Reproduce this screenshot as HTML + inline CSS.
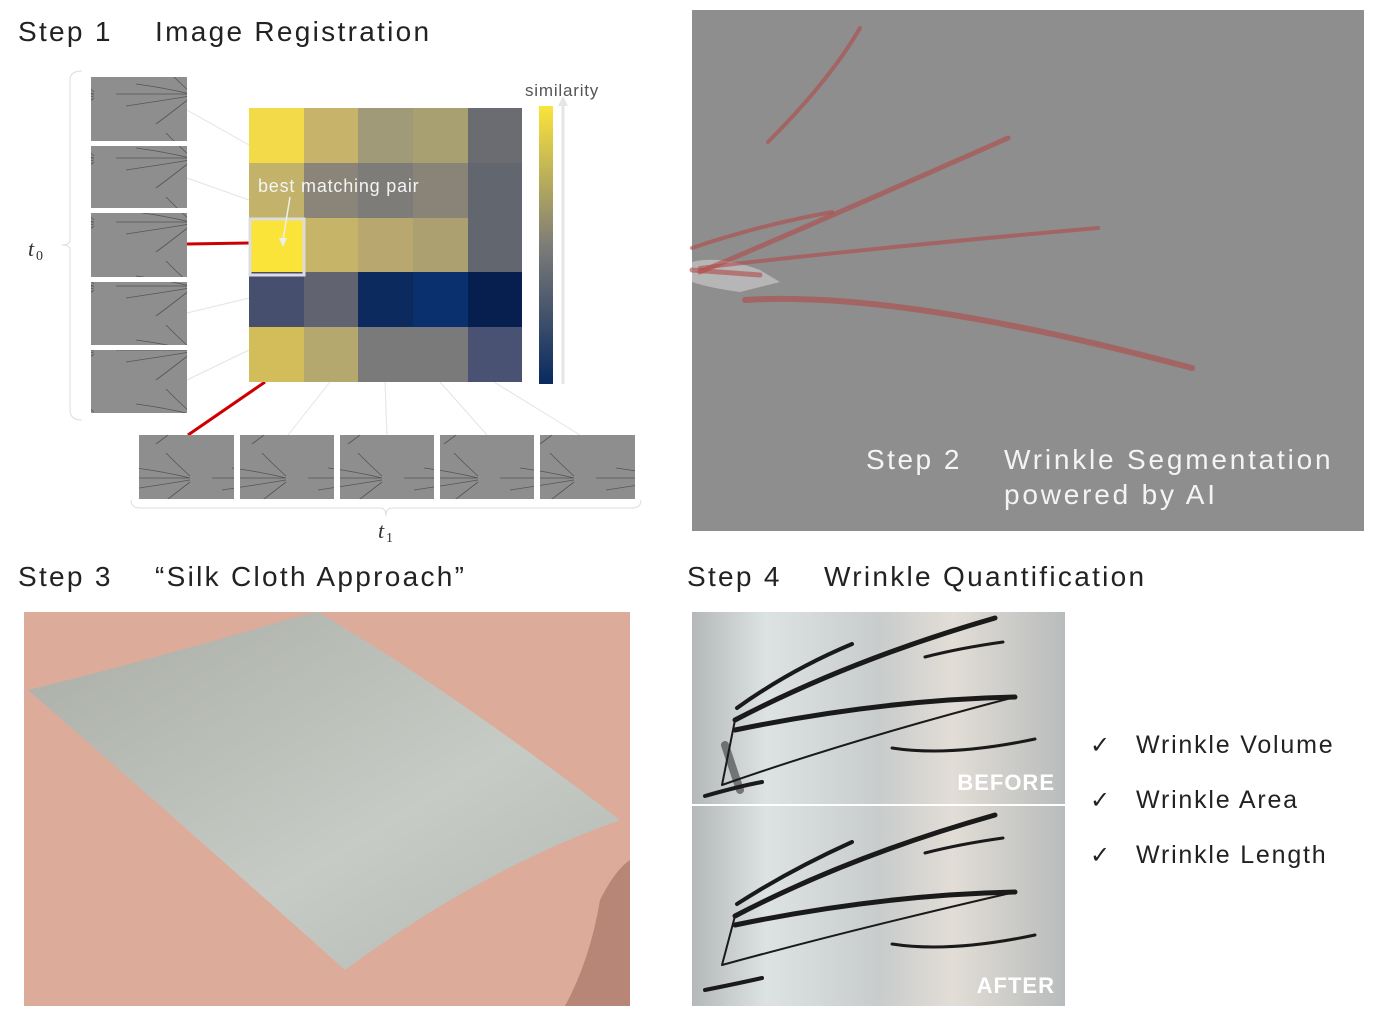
<!DOCTYPE html>
<html><head><meta charset="utf-8"><style>
body{margin:0;width:1375px;height:1019px;background:#fff;position:relative;overflow:hidden;font-family:"Liberation Sans",sans-serif;color:#222}
.t{position:absolute;font-size:28px;white-space:nowrap;letter-spacing:2.3px}
</style></head><body>
<div class="t" style="left:18px;top:16px">Step 1</div>
<div class="t" style="left:155px;top:16px">Image Registration</div>
<div class="t" style="left:18px;top:561px">Step 3</div>
<div class="t" style="left:155px;top:561px">“Silk Cloth Approach”</div>
<div class="t" style="left:687px;top:561px">Step 4</div>
<div class="t" style="left:824px;top:561px">Wrinkle Quantification</div>

<svg width="1375" height="1019" style="position:absolute;left:0;top:0" xmlns="http://www.w3.org/2000/svg">
<defs>
<linearGradient id="cb" x1="0" y1="0" x2="0" y2="1"><stop offset="0" stop-color="#fbe43a"/><stop offset="0.5" stop-color="#7e7c78"/><stop offset="1" stop-color="#082a60"/></linearGradient>
<pattern id="th" width="96" height="64" patternUnits="userSpaceOnUse">
<rect width="96" height="64" fill="#8e8e8e"/>
<path d="M20 30 L94 30 M40 20 Q70 24 94 30 M30 42 Q70 36 94 32 M60 60 Q80 45 94 34 M70 5 Q85 20 94 28" stroke="#555" stroke-width="0.8" fill="none"/>
</pattern>
<linearGradient id="s4" x1="0" y1="0" x2="1" y2="0"><stop offset="0" stop-color="#b4b8b8"/><stop offset="0.2" stop-color="#dde2e2"/><stop offset="0.5" stop-color="#c8cccc"/><stop offset="0.7" stop-color="#e2ddd6"/><stop offset="1" stop-color="#b8bcbc"/></linearGradient>
<linearGradient id="cl" x1="0" y1="0" x2="1" y2="1"><stop offset="0" stop-color="#a9ada6"/><stop offset="0.6" stop-color="#c7cbc5"/><stop offset="1" stop-color="#b3b7b1"/></linearGradient>
</defs>
<path d="M82 71 Q70 71 70 80 L70 240 Q70 245 62 245 Q70 245 70 250 L70 410 Q70 420 82 420" stroke="#ddd" fill="none"/>
<path d="M131 500 Q131 508 140 508 L380 508 Q386 508 386 516 Q386 508 392 508 L632 508 Q641 508 641 500" stroke="#ddd" fill="none"/>
<text x="28" y="256" font-family="Liberation Serif" font-style="italic" font-size="22" fill="#333">t</text><text x="36" y="260" font-family="Liberation Serif" font-size="14" fill="#333">0</text>
<text x="378" y="538" font-family="Liberation Serif" font-style="italic" font-size="22" fill="#333">t</text><text x="386" y="542" font-family="Liberation Serif" font-size="14" fill="#333">1</text>
<g stroke="#e4e4e4" stroke-width="1"><line x1="187" y1="110" x2="249" y2="145"/><line x1="187" y1="178" x2="249" y2="200"/><line x1="187" y1="313" x2="249" y2="298"/><line x1="187" y1="380" x2="249" y2="350"/>
<line x1="330" y1="382" x2="288" y2="435"/><line x1="385" y1="382" x2="387" y2="435"/><line x1="440" y1="382" x2="487" y2="435"/><line x1="494" y1="382" x2="580" y2="435"/></g>
<line x1="187" y1="244" x2="249" y2="243" stroke="#c00" stroke-width="3"/>
<line x1="265" y1="382" x2="188" y2="435" stroke="#c00" stroke-width="3"/>
<g fill="url(#th)"><rect x="91" y="77" width="96" height="64"/><rect x="91" y="146" width="96" height="62"/><rect x="91" y="213" width="96" height="64"/><rect x="91" y="282" width="96" height="63"/><rect x="91" y="350" width="96" height="63"/>
<rect x="139" y="435" width="95" height="64"/><rect x="240" y="435" width="94" height="64"/><rect x="340" y="435" width="94" height="64"/><rect x="440" y="435" width="94" height="64"/><rect x="540" y="435" width="95" height="64"/></g>
<g>
<rect x="249" y="108" width="55" height="55" fill="#f2da48"/><rect x="304" y="108" width="54" height="55" fill="#c7b46a"/><rect x="358" y="108" width="55" height="55" fill="#a09a78"/><rect x="413" y="108" width="55" height="55" fill="#a8a070"/><rect x="468" y="108" width="54" height="55" fill="#6a6c72"/>
<rect x="249" y="163" width="55" height="55" fill="#c2b26a"/><rect x="304" y="163" width="54" height="55" fill="#8a8578"/><rect x="358" y="163" width="55" height="55" fill="#7e7c78"/><rect x="413" y="163" width="55" height="55" fill="#8a8478"/><rect x="468" y="163" width="54" height="55" fill="#62666e"/>
<rect x="249" y="218" width="55" height="54" fill="#fbe43a"/><rect x="304" y="218" width="54" height="54" fill="#c6b468"/><rect x="358" y="218" width="55" height="54" fill="#b8a870"/><rect x="413" y="218" width="55" height="54" fill="#aca070"/><rect x="468" y="218" width="54" height="54" fill="#62666e"/>
<rect x="249" y="272" width="55" height="55" fill="#474f6e"/><rect x="304" y="272" width="54" height="55" fill="#616470"/><rect x="358" y="272" width="55" height="55" fill="#0d2a5e"/><rect x="413" y="272" width="55" height="55" fill="#0a306e"/><rect x="468" y="272" width="54" height="55" fill="#061f4e"/>
<rect x="249" y="327" width="55" height="55" fill="#d2bd5a"/><rect x="304" y="327" width="54" height="55" fill="#b4a86e"/><rect x="358" y="327" width="55" height="55" fill="#7a7a7a"/><rect x="413" y="327" width="55" height="55" fill="#7a7a7a"/><rect x="468" y="327" width="54" height="55" fill="#4a5274"/>
</g>
<rect x="250" y="219" width="54" height="56" fill="none" stroke="#ddd" stroke-width="3"/>
<text x="258" y="192" font-size="18" fill="#f4f4f4" letter-spacing="0.8">best matching pair</text>
<line x1="290" y1="197" x2="283" y2="240" stroke="#eee" stroke-width="1.5"/><path d="M279 238 L283 247 L287 238Z" fill="#eee"/>
<rect x="539" y="106" width="14" height="278" fill="url(#cb)"/>
<line x1="563" y1="384" x2="563" y2="104" stroke="#e6e6e6" stroke-width="3"/><path d="M558 106 L563 96 L568 106Z" fill="#e6e6e6"/>
<text x="525" y="96" font-size="17" fill="#555" letter-spacing="0.8">similarity</text>

<rect x="692" y="10" width="672" height="521" fill="#8e8e8e"/>
<path d="M692 262 Q720 255 760 270 L780 282 L740 292 Q710 288 692 282Z" fill="#d0d0d0" opacity="0.6"/>
<g stroke="#b04a48" stroke-opacity="0.6" fill="none" stroke-linecap="round">
<path d="M860 28 Q830 80 768 142" stroke-width="4"/>
<path d="M692 248 Q760 225 832 212" stroke-width="4"/>
<path d="M700 272 Q800 230 1008 138" stroke-width="5"/>
<path d="M700 268 Q850 250 1098 228" stroke-width="4"/>
<path d="M745 300 Q900 290 1192 368" stroke-width="6"/>
<path d="M692 270 L760 275" stroke-width="5"/>
</g>
<text x="866" y="469" font-size="28" fill="#f4f4f4" letter-spacing="2.5">Step 2</text>
<text x="1004" y="469" font-size="28" fill="#f4f4f4" letter-spacing="2.8">Wrinkle Segmentation</text>
<text x="1004" y="504" font-size="28" fill="#f4f4f4" letter-spacing="2.8">powered by AI</text>

<rect x="24" y="612" width="606" height="394" fill="#dcab9a"/>
<path d="M600 900 Q615 870 630 860 L630 1006 L565 1006 Q590 960 600 900Z" fill="#b88676"/>
<path d="M28 690 Q150 660 300 616 L318 612 Q450 690 620 820 Q480 870 345 970 Q200 840 28 690Z" fill="url(#cl)"/>

<rect x="692" y="612" width="373" height="192" fill="url(#s4)"/>
<rect x="692" y="806" width="373" height="200" fill="url(#s4)"/>
<g stroke="#1a1a1a" fill="none" stroke-linecap="round">
<path d="M737 708 Q790 670 852 644" stroke-width="4"/>
<path d="M735 720 Q850 660 995 618" stroke-width="5"/>
<path d="M925 657 Q960 648 1003 642" stroke-width="3"/>
<path d="M735 730 Q880 700 1015 697" stroke-width="5"/>
<path d="M722 785 L735 720 M722 785 Q850 740 1015 697" stroke-width="2"/>
<path d="M725 745 L740 790" stroke-width="8" stroke-opacity="0.5"/>
<path d="M892 748 Q950 757 1035 739" stroke-width="3"/>
<path d="M705 796 Q740 786 762 782" stroke-width="4"/>
<path d="M737 904 Q790 870 852 842" stroke-width="4"/>
<path d="M735 916 Q850 856 995 815" stroke-width="5"/>
<path d="M925 853 Q960 844 1003 838" stroke-width="3"/>
<path d="M735 925 Q880 895 1015 892" stroke-width="5"/>
<path d="M722 965 L735 916 M722 965 Q850 930 1015 892" stroke-width="2"/>
<path d="M892 944 Q950 953 1035 935" stroke-width="3"/>
<path d="M705 990 Q740 983 762 978" stroke-width="4"/>
</g>
<text x="1055" y="790" font-size="22" font-weight="bold" fill="#fff" text-anchor="end" letter-spacing="1">BEFORE</text>
<text x="1055" y="993" font-size="22" font-weight="bold" fill="#fff" text-anchor="end" letter-spacing="1">AFTER</text>
</svg>
<div class="t" style="left:1090px;top:731px;font-size:24px">✓</div><div class="t" style="left:1136px;top:731px;font-size:25px;letter-spacing:1.8px">Wrinkle Volume</div>
<div class="t" style="left:1090px;top:786px;font-size:24px">✓</div><div class="t" style="left:1136px;top:786px;font-size:25px;letter-spacing:1.8px">Wrinkle Area</div>
<div class="t" style="left:1090px;top:841px;font-size:24px">✓</div><div class="t" style="left:1136px;top:841px;font-size:25px;letter-spacing:1.8px">Wrinkle Length</div>
</body></html>
